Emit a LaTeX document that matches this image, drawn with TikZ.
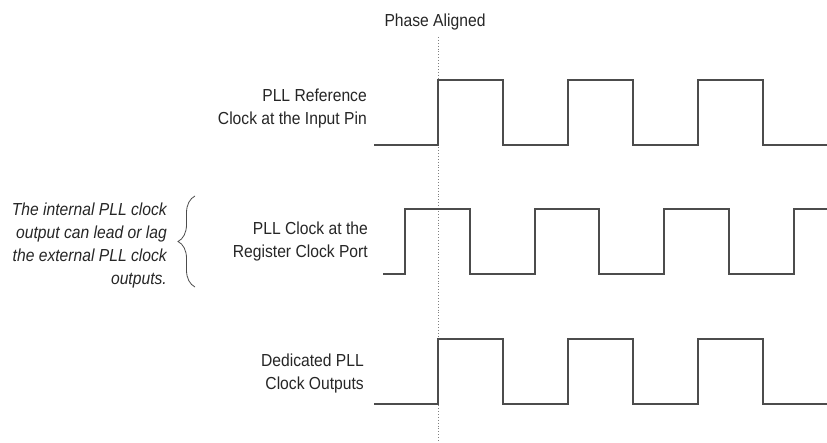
\documentclass[tikz,border=0pt]{standalone}
\usepackage{fontspec}
\setmainfont[FakeStretch=0.9]{Liberation Sans}
\usetikzlibrary{decorations.pathreplacing}

\tikzset{
  wave/.style={line width=1.1pt, black!70},
  label/.style={anchor=east, align=right, inner sep=0pt, text=black!85,
    font=\fontsize{17.4}{23}\selectfont},
}

\begin{document}
\begin{tikzpicture}[x=1pt, y=-1pt]
\useasboundingbox (0,0) rectangle (827,443);

% Define points for the alignment marker and the brace
\coordinate (alignTop) at (438, 37);
\coordinate (alignBot) at (438, 441);
\coordinate (braceTop) at (195, 196);
\coordinate (braceBot) at (195, 287);

% Phase alignment marker
\draw[dotted, gray, line width=0.9pt] (alignTop) -- (alignBot);
\node[label, anchor=center] (phase) at (435, 22) {Phase Aligned};

% Reference clock at the input pin
\draw[wave] (374,145) -- (438,145) -- (438,80) -- (503,80) -- (503,145) -- (568,145)
  -- (568,80) -- (633,80) -- (633,145) -- (698,145) -- (698,80) -- (763,80)
  -- (763,145) -- (827,145);

% Clock at the register clock port
\draw[wave] (383,274) -- (405,274) -- (405,209) -- (470,209) -- (470,274) -- (535,274)
  -- (535,209) -- (599,209) -- (599,274) -- (664,274) -- (664,209) -- (729,209)
  -- (729,274) -- (794,274) -- (794,209) -- (827,209);

% Dedicated clock outputs
\draw[wave] (374,404) -- (438,404) -- (438,339) -- (503,339) -- (503,404) -- (568,404)
  -- (568,339) -- (633,339) -- (633,404) -- (698,404) -- (698,339) -- (763,339)
  -- (763,404) -- (827,404);

% Label waveforms
\node[label] (refLabel) at (367, 109) {PLL Reference\\Clock at the Input Pin};
\node[label] (regLabel) at (368, 242) {PLL Clock at the\\Register Clock Port};
\node[label] (outLabel) at (364, 374) {Dedicated PLL\\Clock Outputs};

% Note on lead or lag
\draw[black!70, line width=0.8pt, decorate, decoration={brace, amplitude=17pt}]
  (braceBot) -- (braceTop);
\node[label, font=\fontsize{17.4}{23}\selectfont\itshape] (leadNote) at (167, 246)
  {The internal PLL clock\\output can lead or lag\\the external PLL clock\\outputs.};

\end{tikzpicture}
\end{document}
